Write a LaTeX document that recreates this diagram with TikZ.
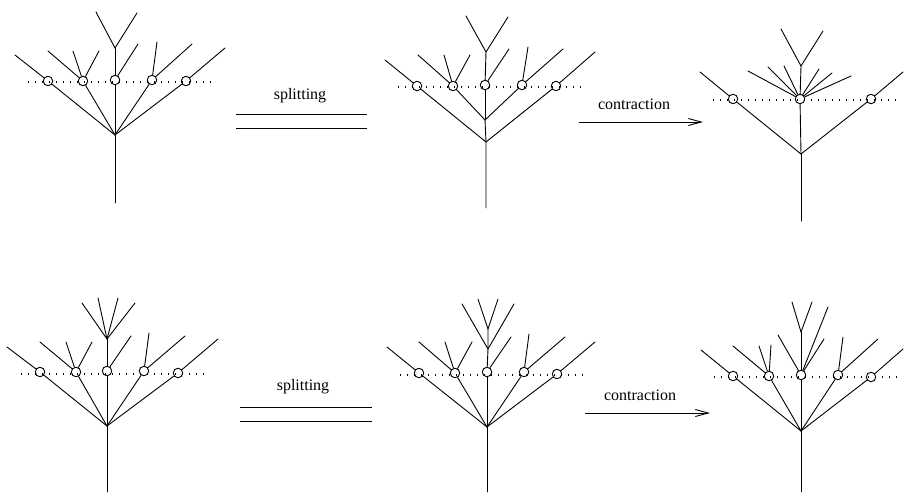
\documentclass[tikz,border=0pt]{standalone}
\usepackage{fontspec}
\setmainfont{Liberation Serif}
\usetikzlibrary{arrows.meta}
\begin{document}
\begin{tikzpicture}[x=1pt,y=-1pt,
  br/.style={line width=0.9pt,line cap=round},
  cut/.style={line width=1.1pt,dash pattern=on 1.1pt off 5.9pt},
  vtx/.style={circle,draw,line width=0.9pt,minimum size=9.5pt,inner sep=0pt},
  lbl/.style={font=\fontsize{16}{19}\selectfont,inner sep=0pt},
  eqline/.style={line width=0.9pt},
  arr/.style={line width=0.9pt,-{Straight Barb[length=13pt,width=7pt,line width=0.9pt]}}]
\useasboundingbox (0,0) rectangle (904,493);

% ================= Tree 1 (top left) =================
\coordinate (aR) at (115,135); \coordinate (aB) at (115,203);
\coordinate (aL) at (28,82); \coordinate (aRt) at (213,82);
\draw[cut] (aL) -- (aRt);
\node[vtx] (a1) at (48,81) {}; \node[vtx] (a2) at (83,81) {};
\node[vtx] (a3) at (115,80) {}; \node[vtx] (a4) at (152,80) {};
\node[vtx] (a5) at (186,81) {};
\coordinate (a1x) at (15,55);
\coordinate (a2x) at (48,51); \coordinate (a2y) at (73,51); \coordinate (a2z) at (99,51);
\coordinate (a3t) at (115,48); \coordinate (a3u) at (96,12); \coordinate (a3v) at (137,13);
\coordinate (a3x) at (138,44);
\coordinate (a4x) at (157,42); \coordinate (a4y) at (192,44);
\coordinate (a5x) at (225,48);
\draw[br] (aB) -- (aR);
\foreach \c in {a1,a2,a3,a4,a5} \draw[br] (aR) -- (\c);
\draw[br] (a1) -- (a1x);
\draw[br] (a2) -- (a2x); \draw[br] (a2) -- (a2y); \draw[br] (a2) -- (a2z);
\draw[br] (a3) -- (a3t); \draw[br] (a3u) -- (a3t) -- (a3v); \draw[br] (a3) -- (a3x);
\draw[br] (a4) -- (a4x); \draw[br] (a4) -- (a4y);
\draw[br] (a5) -- (a5x);

% ================= Tree 2 (top middle) =================
\coordinate (bR) at (486,142); \coordinate (bB) at (486,208); \coordinate (bU) at (485,120);
\coordinate (bL) at (398,87); \coordinate (bRt) at (583,87);
\draw[cut] (bL) -- (bRt);
\node[vtx] (b1) at (417,86) {}; \node[vtx] (b2) at (453,86) {};
\node[vtx] (b3) at (485,85) {}; \node[vtx] (b4) at (522,85) {};
\node[vtx] (b5) at (556,86) {};
\coordinate (b1x) at (385,60); \coordinate (b5x) at (595,52);
\coordinate (b2x) at (418,55); \coordinate (b2y) at (444,55); \coordinate (b2z) at (470,55);
\coordinate (b3t) at (486,52); \coordinate (b3u) at (466,16); \coordinate (b3v) at (508,17);
\coordinate (b3x) at (509,49);
\coordinate (b4x) at (528,47); \coordinate (b4y) at (563,49);
\draw[br] (bB) -- (bR) -- (bU);
\draw[br] (bR) -- (b1); \draw[br] (bR) -- (b5);
\foreach \c in {b2,b3,b4} \draw[br] (bU) -- (\c);
\draw[br] (b1) -- (b1x); \draw[br] (b5) -- (b5x);
\draw[br] (b2) -- (b2x); \draw[br] (b2) -- (b2y); \draw[br] (b2) -- (b2z);
\draw[br] (b3) -- (b3t); \draw[br] (b3u) -- (b3t) -- (b3v); \draw[br] (b3) -- (b3x);
\draw[br] (b4) -- (b4x); \draw[br] (b4) -- (b4y);

% ================= Tree 3 (top right) =================
\coordinate (cR) at (801,154); \coordinate (cB) at (801,221);
\coordinate (cL) at (713,100); \coordinate (cRt) at (898,100);
\draw[cut] (cL) -- (cRt);
\node[vtx] (c1) at (733,99) {}; \node[vtx] (c2) at (800,99) {};
\node[vtx] (c3) at (871,99) {};
\coordinate (c1x) at (700,72); \coordinate (c3x) at (903,72);
\coordinate (c2t) at (801,66); \coordinate (c2u) at (781,29); \coordinate (c2v) at (823,31);
\coordinate (c2a) at (748,71); \coordinate (c2b) at (768,67); \coordinate (c2c) at (784,66);
\coordinate (c2d) at (819,69); \coordinate (c2e) at (832,73); \coordinate (c2f) at (851,76);
\draw[br] (cB) -- (cR);
\foreach \c in {c1,c2,c3} \draw[br] (cR) -- (\c);
\draw[br] (c1) -- (c1x); \draw[br] (c3) -- (c3x);
\draw[br] (c2) -- (c2t); \draw[br] (c2u) -- (c2t) -- (c2v);
\foreach \l in {c2a,c2b,c2c,c2d,c2e,c2f} \draw[br] (c2) -- (\l);

% ================= Tree 4 (bottom left) =================
\coordinate (dR) at (107,426); \coordinate (dB) at (107,492);
\coordinate (dL) at (21,374); \coordinate (dRt) at (205,374);
\draw[cut] (dL) -- (dRt);
\node[vtx] (d1) at (40,372) {}; \node[vtx] (d2) at (76,372) {};
\node[vtx] (d3) at (107,371) {}; \node[vtx] (d4) at (144,371) {};
\node[vtx] (d5) at (178,373) {};
\coordinate (d1x) at (7,347);
\coordinate (d2x) at (40,342); \coordinate (d2y) at (66,342); \coordinate (d2z) at (92,342);
\coordinate (d3t) at (107,339);
\coordinate (d3a) at (82,303); \coordinate (d3b) at (98,298); \coordinate (d3c) at (118,298); \coordinate (d3d) at (135,303);
\coordinate (d3x) at (131,336);
\coordinate (d4x) at (149,333); \coordinate (d4y) at (185,336);
\coordinate (d5x) at (218,339);
\draw[br] (dB) -- (dR);
\foreach \c in {d1,d2,d3,d4,d5} \draw[br] (dR) -- (\c);
\draw[br] (d1) -- (d1x);
\draw[br] (d2) -- (d2x); \draw[br] (d2) -- (d2y); \draw[br] (d2) -- (d2z);
\draw[br] (d3) -- (d3t);
\foreach \l in {d3a,d3b,d3c,d3d} \draw[br] (d3t) -- (\l);
\draw[br] (d3) -- (d3x);
\draw[br] (d4) -- (d4x); \draw[br] (d4) -- (d4y);
\draw[br] (d5) -- (d5x);

% ================= Tree 5 (bottom middle) =================
\coordinate (eR) at (487,427); \coordinate (eB) at (487,492);
\coordinate (eL) at (400,375); \coordinate (eRt) at (585,375);
\draw[cut] (eL) -- (eRt);
\node[vtx] (e1) at (419,373) {}; \node[vtx] (e2) at (455,373) {};
\node[vtx] (e3) at (487,372) {}; \node[vtx] (e4) at (524,372) {};
\node[vtx] (e5) at (557,374) {};
\coordinate (e1x) at (387,347);
\coordinate (e2x) at (419,342); \coordinate (e2y) at (445,342); \coordinate (e2z) at (472,342);
\coordinate (e3t) at (488,349); \coordinate (e3a) at (462,304); \coordinate (e3b) at (514,304);
\coordinate (e3u) at (488,329); \coordinate (e3c) at (478,299); \coordinate (e3d) at (498,299);
\coordinate (e3x) at (511,337);
\coordinate (e4x) at (529,334); \coordinate (e4y) at (565,337);
\coordinate (e5x) at (595,342);
\draw[br] (eB) -- (eR);
\foreach \c in {e1,e2,e3,e4,e5} \draw[br] (eR) -- (\c);
\draw[br] (e1) -- (e1x);
\draw[br] (e2) -- (e2x); \draw[br] (e2) -- (e2y); \draw[br] (e2) -- (e2z);
\draw[br] (e3) -- (e3t) -- (e3u);
\draw[br] (e3t) -- (e3a); \draw[br] (e3t) -- (e3b);
\draw[br] (e3c) -- (e3u) -- (e3d);
\draw[br] (e3) -- (e3x);
\draw[br] (e4) -- (e4x); \draw[br] (e4) -- (e4y);
\draw[br] (e5) -- (e5x);

% ================= Tree 6 (bottom right) =================
\coordinate (fR) at (801,431); \coordinate (fB) at (801,492);
\coordinate (fL) at (714,377); \coordinate (fRt) at (899,377);
\draw[cut] (fL) -- (fRt);
\node[vtx] (f1) at (733,376) {}; \node[vtx] (f2) at (769,376) {};
\node[vtx] (f3) at (801,375) {}; \node[vtx] (f4) at (838,375) {};
\node[vtx] (f5) at (871,377) {};
\coordinate (f1x) at (701,350);
\coordinate (f2x) at (733,346); \coordinate (f2y) at (759,346); \coordinate (f2z) at (771,345);
\coordinate (f3t) at (801,332); \coordinate (f3u) at (792,302); \coordinate (f3v) at (812,302);
\coordinate (f3a) at (778,335); \coordinate (f3b) at (828,307); \coordinate (f3c) at (824,339);
\coordinate (f4x) at (843,337); \coordinate (f4y) at (878,339);
\coordinate (f5x) at (903,349);
\draw[br] (fB) -- (fR);
\foreach \c in {f1,f2,f3,f4,f5} \draw[br] (fR) -- (\c);
\draw[br] (f1) -- (f1x);
\draw[br] (f2) -- (f2x); \draw[br] (f2) -- (f2y); \draw[br] (f2) -- (f2z);
\draw[br] (f3) -- (f3t); \draw[br] (f3u) -- (f3t) -- (f3v);
\draw[br] (f3) -- (f3a); \draw[br] (f3) -- (f3b); \draw[br] (f3) -- (f3c);
\draw[br] (f4) -- (f4x); \draw[br] (f4) -- (f4y);
\draw[br] (f5) -- (f5x);

% ================= Operations =================
\node[lbl] (s1) at (300,96) {splitting};
\coordinate (s1a) at (236,114); \coordinate (s1b) at (367,114);
\coordinate (s1c) at (236,128); \coordinate (s1d) at (367,128);
\draw[eqline] (s1a) -- (s1b); \draw[eqline] (s1c) -- (s1d);

\node[lbl] (k1) at (634,104) {contraction};
\coordinate (k1a) at (579,122); \coordinate (k1b) at (703,122);
\draw[arr] (k1a) -- (k1b);

\node[lbl] (s2) at (303,387) {splitting};
\coordinate (s2a) at (240,407); \coordinate (s2b) at (372,407);
\coordinate (s2c) at (240,421); \coordinate (s2d) at (372,421);
\draw[eqline] (s2a) -- (s2b); \draw[eqline] (s2c) -- (s2d);

\node[lbl] (k2) at (640,395) {contraction};
\coordinate (k2a) at (585,413); \coordinate (k2b) at (710,413);
\draw[arr] (k2a) -- (k2b);
\end{tikzpicture}
\end{document}
